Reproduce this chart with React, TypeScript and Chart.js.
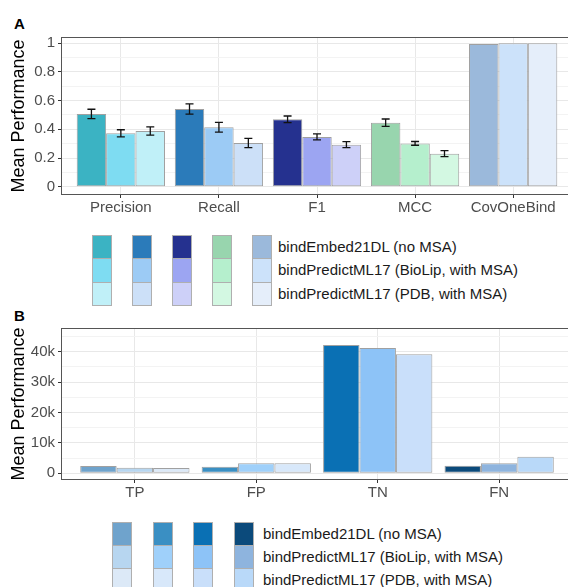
import React, { useEffect, useRef } from 'react';
import { Chart, registerables } from 'chart.js';

Chart.register(...registerables);

const FONT = '"Liberation Sans", Arial, Helvetica, sans-serif';

// ---------- data ----------
const methodNames = [
  'bindEmbed21DL (no MSA)',
  'bindPredictML17 (BioLip, with MSA)',
  'bindPredictML17 (PDB, with MSA)',
];

// Panel A
const metricsA = ['Precision', 'Recall', 'F1', 'MCC', 'CovOneBind'];
const embedA = [0.507, 0.542, 0.47, 0.446, 0.995];
const biolipA = [0.372, 0.414, 0.347, 0.302, 1.0];
const pdbA = [0.388, 0.305, 0.293, 0.23, 1.0];
const embedErrA = [0.033, 0.036, 0.023, 0.026, 0];
const biolipErrA = [0.025, 0.034, 0.021, 0.013, 0];
const pdbErrA = [0.029, 0.032, 0.021, 0.021, 0];
const embedColorsA = ['#3BB3C3', '#2B7BBA', '#25318F', '#98D5AE', '#9BB9DB'];
const biolipColorsA = ['#7EDCF2', '#9CCBF5', '#9CA5F2', '#B5EFCD', '#CCE2FA'];
const pdbColorsA = ['#C0F0F8', '#CCE0F8', '#CDD0F8', '#D3F8E2', '#E5EEFA'];
const yMajorA = [0, 0.2, 0.4, 0.6, 0.8, 1];
const yMajorLabelsA = ['0', '0.2', '0.4', '0.6', '0.8', '1'];
const yMinorA = [0.1, 0.3, 0.5, 0.7, 0.9];

// Panel B
const countsB = ['TP', 'FP', 'TN', 'FN'];
const embedB = [2400, 2170, 42200, 2500];
const biolipB = [1850, 3290, 41200, 3290];
const pdbB = [1750, 3290, 39200, 5460];
const embedColorsB = ['#6FA3CC', '#3A8FC3', '#0A70B4', '#0B4A7B'];
const biolipColorsB = ['#B7D6F0', '#9FD0FA', '#8DC3F7', '#8EB4DE'];
const pdbColorsB = ['#DCE9F7', '#D8E8FA', '#C9DFFA', '#B9D9F9'];
const yMajorB = [0, 10000, 20000, 30000, 40000];
const yMajorLabelsB = ['0', '10k', '20k', '30k', '40k'];
const yMinorB = [5000, 15000, 25000, 35000, 45000];

// ---------- plugins ----------
const errorBarPlugin = {
  id: 'errorBars',
  afterDatasetsDraw(chart: any) {
    const ctx = chart.ctx;
    const ys = chart.scales.y;
    chart.data.datasets.forEach((ds: any, i: number) => {
      const errs = ds.errors;
      if (!errs) return;
      const meta = chart.getDatasetMeta(i);
      meta.data.forEach((el: any, j: number) => {
        const e = errs[j];
        if (!e) return;
        const v = ds.data[j].y;
        const t = ys.getPixelForValue(v + e);
        const b = ys.getPixelForValue(v - e);
        ctx.save();
        ctx.strokeStyle = '#111';
        ctx.lineWidth = 1.3;
        ctx.beginPath();
        ctx.moveTo(el.x, t);
        ctx.lineTo(el.x, b);
        ctx.moveTo(el.x - 4, t);
        ctx.lineTo(el.x + 4, t);
        ctx.moveTo(el.x - 4, b);
        ctx.lineTo(el.x + 4, b);
        ctx.stroke();
        ctx.restore();
      });
    });
  },
};

const borderPlugin = {
  id: 'panelBorder',
  afterDraw(chart: any) {
    const { ctx, chartArea } = chart;
    ctx.save();
    ctx.strokeStyle = '#555';
    ctx.lineWidth = 1;
    ctx.strokeRect(
      chartArea.left - 0.5,
      chartArea.top - 0.5,
      chartArea.right - chartArea.left + 1,
      chartArea.bottom - chartArea.top + 1
    );
    ctx.restore();
  },
};

type PanelCfg = {
  labels: string[];
  series: number[][];
  errors?: number[][];
  colors: string[][];
  yMin: number;
  yMax: number;
  yMajor: number[];
  yMajorLabels: string[];
  yMinor: number[];
  padTop: number;
  xAxisHeight: number;
};

function Panel({ cfg, width, height, top }: { cfg: PanelCfg; width: number; height: number; top: number }) {
  const ref = useRef<HTMLCanvasElement>(null);
  useEffect(() => {
    const yTicks = [
      ...cfg.yMajor.map((v, i) => ({ value: v, minor: false, lab: cfg.yMajorLabels[i] })),
      ...cfg.yMinor.map((v) => ({ value: v, minor: true, lab: '' })),
    ].sort((a, b) => a.value - b.value);

    const chart = new Chart(ref.current as HTMLCanvasElement, {
      type: 'bar',
      data: {
        datasets: cfg.series.map((vals, i) => ({
          label: methodNames[i],
          data: vals.map((v, j) => ({ x: j, y: v })),
          backgroundColor: cfg.colors[i],
          borderColor: '#A0A0A0',
          borderWidth: 1,
          borderSkipped: false,
          barPercentage: 1.0,
          categoryPercentage: 0.9,
          errors: cfg.errors ? cfg.errors[i] : null,
        })) as any,
      },
      options: {
        responsive: false,
        animation: false,
        devicePixelRatio: 1,
        layout: { padding: { top: cfg.padTop, left: 0, right: 0, bottom: 0 } },
        plugins: { legend: { display: false }, tooltip: { enabled: false } },
        scales: {
          x: {
            type: 'linear',
            offset: false,
            min: -0.6,
            max: cfg.labels.length - 0.4,
            afterBuildTicks: (s: any) => {
              s.ticks = cfg.labels.map((_, i) => ({ value: i }));
            },
            afterFit: (s: any) => {
              s.height = cfg.xAxisHeight;
            },
            ticks: {
              callback: (v: any) => cfg.labels[v],
              font: { family: FONT, size: 15 },
              color: '#4D4D4D',
              padding: 1,
              autoSkip: false,
              maxRotation: 0,
            },
            grid: {
              offset: false,
              color: '#E8E8E8',
              lineWidth: 1,
              tickLength: 4,
              tickColor: '#333',
            },
            border: { display: false },
          },
          y: {
            type: 'linear',
            min: cfg.yMin,
            max: cfg.yMax,
            afterBuildTicks: (s: any) => {
              s.ticks = yTicks.map((t) => ({ ...t }));
            },
            afterFit: (s: any) => {
              s.width = 62;
            },
            ticks: {
              callback: (_v: any, i: number) => yTicks[i].lab,
              font: { family: FONT, size: 15 },
              color: '#4D4D4D',
              padding: 3,
              autoSkip: false,
            },
            grid: {
              color: (c: any) => (c.tick && c.tick.minor ? '#F3F3F3' : '#E8E8E8'),
              lineWidth: 1,
              tickLength: 4,
              tickColor: (c: any) => (c.tick && c.tick.minor ? 'rgba(0,0,0,0)' : '#333'),
            },
            border: { display: false },
            title: {
              display: true,
              text: 'Mean Performance',
              font: { family: FONT, size: 18 },
              color: '#000',
              padding: { top: 8, bottom: 0 },
            },
          },
        },
      } as any,
      plugins: [errorBarPlugin, borderPlugin],
    });
    return () => chart.destroy();
  }, []);
  return (
    <canvas
      ref={ref}
      width={width}
      height={height}
      style={{ position: 'absolute', left: 0, top, width, height, display: 'block' }}
    />
  );
}

function Legend({
  columns,
  left,
  step,
  top,
  rowH,
  textLeft,
}: {
  columns: string[][];
  left: number;
  step: number;
  top: number;
  rowH: number;
  textLeft: number;
}) {
  return (
    <>
      {columns.map((col, j) =>
        col.map((c, k) => (
          <div
            key={`${j}-${k}`}
            style={{
              position: 'absolute',
              left: left + step * j,
              top: top + rowH * k,
              width: 20,
              height: rowH + 1,
              background: c,
              border: '1px solid #AFAFAF',
              boxSizing: 'border-box',
            }}
          />
        ))
      )}
      {methodNames.map((m, k) => (
        <div
          key={m}
          style={{
            position: 'absolute',
            left: textLeft,
            top: top + rowH * k,
            height: rowH,
            lineHeight: `${rowH}px`,
            fontFamily: FONT,
            fontSize: 15,
            color: '#1A1A1A',
            whiteSpace: 'nowrap',
          }}
        >
          {m}
        </div>
      ))}
    </>
  );
}

export default function App() {
  const cfgA: PanelCfg = {
    labels: metricsA,
    series: [embedA, biolipA, pdbA],
    errors: [embedErrA, biolipErrA, pdbErrA],
    colors: [embedColorsA, biolipColorsA, pdbColorsA],
    yMin: -0.051,
    yMax: 1.037,
    yMajor: yMajorA,
    yMajorLabels: yMajorLabelsA,
    yMinor: yMinorA,
    padTop: 38,
    xAxisHeight: 36,
  };
  const cfgB: PanelCfg = {
    labels: countsB,
    series: [embedB, biolipB, pdbB],
    colors: [embedColorsB, biolipColorsB, pdbColorsB],
    yMin: -1875,
    yMax: 47470,
    yMajor: yMajorB,
    yMajorLabels: yMajorLabelsB,
    yMinor: yMinorB,
    padTop: 29,
    xAxisHeight: 31,
  };
  const colsA = metricsA.map((_, j) => [embedColorsA[j], biolipColorsA[j], pdbColorsA[j]]);
  const colsB = countsB.map((_, j) => [embedColorsB[j], biolipColorsB[j], pdbColorsB[j]]);
  const tag = (t: string, top: number) => (
    <div
      style={{
        position: 'absolute',
        left: 14,
        top,
        fontFamily: FONT,
        fontWeight: 'bold',
        fontSize: 15,
        lineHeight: '17px',
        color: '#000',
      }}
    >
      {t}
    </div>
  );
  return (
    <div
      style={{
        position: 'absolute',
        left: 0,
        top: 0,
        width: 568,
        height: 587,
        overflow: 'hidden',
        background: '#fff',
      }}
    >
      {tag('A', 15)}
      <Panel cfg={cfgA} width={572} height={230} top={0} />
      <Legend columns={colsA} left={92} step={40} top={235} rowH={23.3} textLeft={278} />
      {tag('B', 307)}
      <Panel cfg={cfgB} width={572} height={210} top={300} />
      <Legend columns={colsB} left={112} step={40.5} top={522} rowH={23} textLeft={263} />
    </div>
  );
}
